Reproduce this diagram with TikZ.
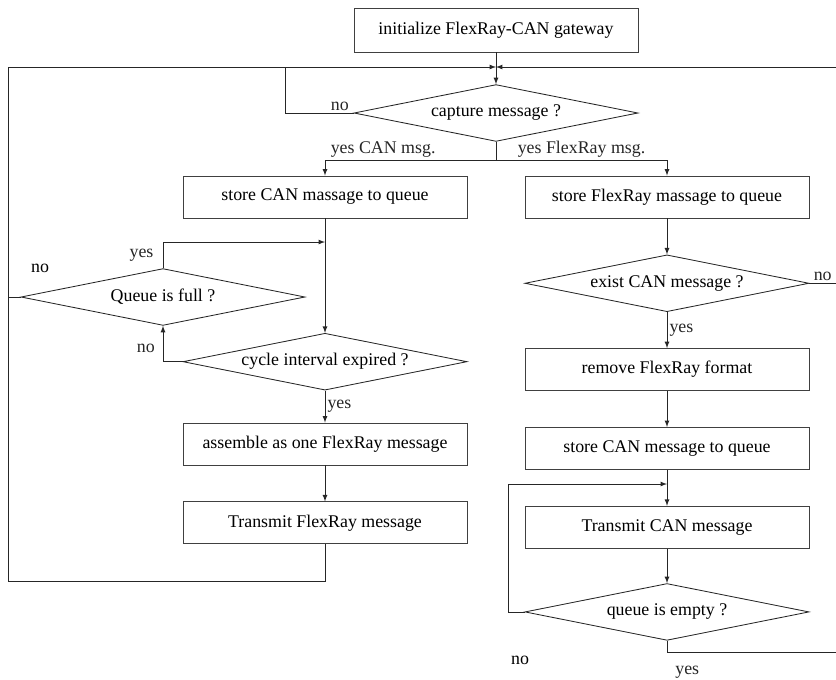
\documentclass[tikz,border=0pt]{standalone}
\usepackage{fontspec}
\setmainfont{Liberation Serif}
\usepackage{tikz}
\usetikzlibrary{shapes,arrows,positioning}

\tikzset{
  box/.style={draw=black!75, rectangle, line width=0.6pt, minimum width=7.1cm, minimum height=1.05cm, font=\fontsize{12.7}{15}\selectfont},
  decision/.style={draw=black!85, diamond, aspect=5, line width=0.6pt, minimum width=7.1cm, minimum height=1.42cm, inner sep=1pt, font=\fontsize{12.7}{15}\selectfont},
  lbl/.style={inner sep=1.5pt, font=\fontsize{12.7}{15}\selectfont},
  flow/.style={-latex, line width=0.6pt, black!85},
  link/.style={line width=0.6pt, black!85}
}

\begin{document}
\begin{tikzpicture}[x=0.025cm, y=-0.025cm, node distance=0.9cm]
  \useasboundingbox (0,0) rectangle (836,679);
  \node[box, minimum height=1.1cm] (init) at (496,30) {initialize FlexRay-CAN gateway};
  \node[decision] (capture) at (496,113) {capture message ?};
  \node[box] (storecan) at (325,197) {store CAN massage to queue};
  \node[box] (storefr) at (667,197) {store FlexRay massage to queue};
  \node[decision] (full) at (163,297) {Queue is full ?};
  \node[decision, below=2.86cm of storecan] (cycle) {cycle interval expired ?};
  \node[box, below=0.8cm of cycle] (assemble) {assemble as one FlexRay message};
  \node[box, below=of assemble] (txfr) {Transmit FlexRay message};
  \node[decision, below=of storefr] (exist) {exist CAN message ?};
  \node[box, below=of exist] (remove) {remove FlexRay format};
  \node[box, below=of remove] (storecan2) {store CAN message to queue};
  \node[box, below=of storecan2] (txcan) {Transmit CAN message};
  \node[decision, below=0.86cm of txcan] (empty) {queue is empty ?};

  % turning points of the loops
  \coordinate (join) at (496,67);
  \coordinate (lefttop) at (8,67);
  \coordinate (leftbot) at (8,581);
  \coordinate (righttop) at (836,67);
  \coordinate (capno) at (285,67);
  \coordinate (split) at (496,160);
  \coordinate (mergeL) at (325,242);
  \coordinate (mergeR) at (667,484);
  \coordinate (backR) at (508,484);
  \coordinate (emptyyes) at (836,652);

  \draw[flow] (init) -- (capture);
  \draw[flow] (txfr) |- (leftbot) -- (lefttop) -- (join);
  \draw[flow] (righttop) -- (join);
  \draw[link] (capture.west) -| node[lbl, pos=0.1, above] (nocap) {no} (capno);
  \draw[link] (capture.south) -- (split);
  \draw[flow] (split) -| node[lbl, pos=0.33, above] (yescan) {yes CAN msg.} (storecan);
  \draw[flow] (split) -| node[lbl, pos=0.25, above] (yesfr) {yes FlexRay msg.} (storefr);

  % CAN side
  \draw[flow] (storecan) -- (cycle);
  \draw[flow] (full.north) |- node[lbl, pos=0.25, left=5pt] (yesfull) {yes} (mergeL);
  \draw[link] (full.west) -- (full.west -| lefttop);
  \node[lbl] (nofull) at (40,268) {no};
  \draw[flow] (cycle.west) -| node[lbl, pos=0.69, left=4pt] (nocycle) {no} (full.south);
  \draw[flow] (cycle) -- node[lbl, right] (yescycle) {yes} (assemble);
  \draw[flow] (assemble) -- (txfr);

  % FlexRay side
  \draw[flow] (storefr) -- (exist);
  \draw[flow] (exist) -- node[lbl, right] (yesexist) {yes} (remove);
  \draw[link] (exist.east) -- node[lbl, above] (noexist) {no} (exist.east -| righttop);
  \draw[flow] (remove) -- (storecan2);
  \draw[flow] (storecan2) -- (txcan);
  \draw[flow] (txcan) -- (empty);
  \draw[flow] (empty.west) -| (backR) -- (mergeR);
  \node[lbl] (noempty) at (520,660) {no};
  \draw[link] (empty.south) |- node[lbl, pos=0.56, below=8pt] (yesempty) {yes} (emptyyes);
\end{tikzpicture}
\end{document}
